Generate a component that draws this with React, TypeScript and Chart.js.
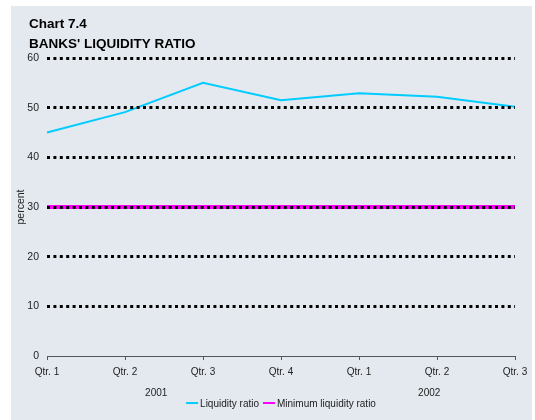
import React, { useEffect, useRef } from 'react';
import { Chart, registerables } from 'chart.js';

Chart.register(...registerables);

const categories = ['Qtr. 1', 'Qtr. 2', 'Qtr. 3', 'Qtr. 4', 'Qtr. 1', 'Qtr. 2', 'Qtr. 3'];
const years = ['2001', '2002'];
const yearPositions = [1.4, 4.9]; // in category units
const liquidityRatio = [45.0, 49.1, 55.0, 51.5, 52.9, 52.2, 50.2];
const minimumRatio = [30, 30, 30, 30, 30, 30, 30];
const yMin = 0;
const yMax = 60;
const yStep = 10;
const titleLines = ['Chart 7.4', "BANKS' LIQUIDITY RATIO"];
const yTitle = 'percent';

const FONT = '"Liberation Sans", Arial, sans-serif';
const BG = '#e4e9f0';

const decor = {
  id: 'decor',
  beforeDraw(chart: any) {
    const ctx = chart.ctx;
    ctx.save();
    ctx.fillStyle = BG;
    ctx.fillRect(11, 6, 521, chart.height - 6);
    ctx.restore();
  },
  afterDraw(chart: any) {
    const ctx = chart.ctx;
    const area = chart.chartArea;
    const xs = chart.scales.x;
    ctx.save();
    // titles
    ctx.fillStyle = '#000';
    ctx.textAlign = 'left';
    ctx.textBaseline = 'alphabetic';
    ctx.font = `bold 13.5px ${FONT}`;
    ctx.fillText(titleLines[0], 29, 28);
    ctx.fillText(titleLines[1], 29, 48);

    // year labels
    ctx.font = `10px ${FONT}`;
    ctx.fillStyle = '#222';
    ctx.textAlign = 'center';
    ctx.textBaseline = 'middle';
    const step = (xs.right - xs.left) / (categories.length - 1);
    years.forEach((y, i) => {
      ctx.fillText(y, xs.left + yearPositions[i] * step, 393);
    });

    // legend
    ctx.font = `10px ${FONT}`;
    ctx.textAlign = 'left';
    const sample = 12;
    const gapText = 2;
    const gapItem = 4;
    const items = chart.data.datasets.map((d: any) => ({
      label: d.label,
      color: d.borderColor,
      w: ctx.measureText(d.label).width,
    }));
    const total = items.reduce((s: number, it: any) => s + sample + gapText + it.w, 0) + gapItem * (items.length - 1);
    let x = (area.left + area.right) / 2 - total / 2;
    const ly = 404;
    items.forEach((it: any) => {
      ctx.strokeStyle = it.color;
      ctx.lineWidth = 2;
      ctx.beginPath();
      ctx.moveTo(x, ly - 1);
      ctx.lineTo(x + sample, ly - 1);
      ctx.stroke();
      x += sample + gapText;
      ctx.fillStyle = '#222';
      ctx.fillText(it.label, x, ly);
      x += it.w + gapItem;
    });
    ctx.restore();
  },
};

export default function App() {
  const ref = useRef<HTMLCanvasElement | null>(null);
  useEffect(() => {
    if (!ref.current) return;
    const chart = new Chart(ref.current, {
      type: 'line',
      data: {
        labels: categories,
        datasets: [
          {
            label: 'Liquidity ratio',
            data: liquidityRatio,
            borderColor: '#00ccff',
            backgroundColor: '#00ccff',
            borderWidth: 2,
            pointRadius: 0,
            tension: 0,
          },
          {
            label: 'Minimum liquidity ratio',
            data: minimumRatio,
            borderColor: '#ff00ff',
            backgroundColor: '#ff00ff',
            borderWidth: 4,
            pointRadius: 0,
            tension: 0,
          },
        ],
      },
      options: {
        animation: false,
        responsive: false,
        maintainAspectRatio: false,
        layout: { padding: { left: 0, right: 20, top: 58, bottom: 0 } },
        plugins: {
          legend: { display: false },
          tooltip: { enabled: false },
        },
        scales: {
          x: {
            type: 'category',
            offset: false,
            grid: {
              drawOnChartArea: false,
              drawTicks: true,
              tickLength: 4,
              color: '#555',
            },
            border: { display: true, color: '#555', width: 1 },
            ticks: {
              color: '#222',
              font: { family: FONT, size: 10 },
              padding: 6,
              maxRotation: 0,
              autoSkip: false,
            },
            afterFit(scale: any) {
              scale.height = 64;
            },
          },
          y: {
            min: yMin,
            max: yMax,
            grid: {
              z: 1,
              drawTicks: false,
              lineWidth: 3,
              color: (c: any) => (c.tick && c.tick.value === 0 ? 'rgba(0,0,0,0)' : '#000'),
            },
            border: { display: false, dash: [3, 3.4] },
            ticks: {
              stepSize: yStep,
              color: '#222',
              font: { family: FONT, size: 10.5 },
              padding: 8,
            },
            title: {
              display: true,
              text: yTitle,
              color: '#222',
              font: { family: FONT, size: 10.5 },
              padding: { top: 15, bottom: 0 },
            },
            afterFit(scale: any) {
              scale.width = 47;
            },
          },
        },
      },
      plugins: [decor],
    } as any);
    return () => chart.destroy();
  }, []);
  return (
    <div style={{ position: 'absolute', left: 0, top: 0, width: 535, height: 420 }}>
      <canvas ref={ref} width={535} height={420} style={{ display: 'block' }} />
    </div>
  );
}
